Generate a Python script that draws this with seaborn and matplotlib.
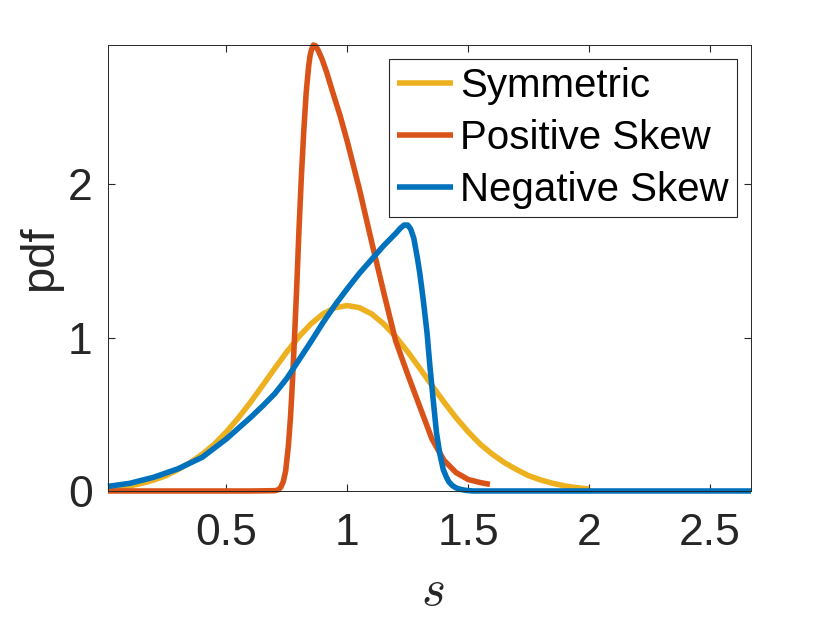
import numpy as np
import pandas as pd
import seaborn as sns
import matplotlib.pyplot as plt


sns.set_style("white")
plt.rcParams['font.family'] = ['Liberation Sans', 'DejaVu Sans']
plt.rcParams['mathtext.fontset'] = 'cm'

labels = ['Symmetric', 'Positive Skew', 'Negative Skew']
colors = ['#EDB120', '#D95319', '#0072BD']

sym_s = [0.01, 0.05, 0.10, 0.15, 0.20, 0.25, 0.30, 0.35, 0.40, 0.45, 0.50, 0.55, 0.60, 0.65, 0.70,
         0.75, 0.80, 0.85, 0.90, 0.95, 1.00, 1.05, 1.10, 1.15, 1.20, 1.25, 1.30, 1.35, 1.40, 1.45,
         1.50, 1.55, 1.60, 1.65, 1.70, 1.75, 1.80, 1.85, 1.90, 1.95, 2.00]
sym_pdf = [0.013, 0.021, 0.033, 0.050, 0.072, 0.100, 0.140, 0.185, 0.240, 0.305, 0.386, 0.478, 0.580,
           0.689, 0.800, 0.908, 1.007, 1.091, 1.156, 1.196, 1.210, 1.196, 1.156, 1.091, 1.007, 0.908,
           0.800, 0.689, 0.580, 0.478, 0.386, 0.305, 0.240, 0.185, 0.140, 0.100, 0.072, 0.050, 0.033,
           0.021, 0.013]

pos_s = [0.01, 0.30, 0.60, 0.70, 0.715, 0.725, 0.735, 0.745, 0.756, 0.765, 0.772, 0.78, 0.79, 0.80,
         0.81, 0.82, 0.83, 0.84, 0.846, 0.852, 0.86, 0.868, 0.878, 0.895, 0.915, 0.94, 0.97, 1.00,
         1.05, 1.10, 1.15, 1.20, 1.25, 1.30, 1.35, 1.40, 1.45, 1.50, 1.55, 1.59]
pos_pdf = [0.0, 0.0, 0.0, 0.002, 0.008, 0.025, 0.06, 0.13, 0.29, 0.48, 0.68, 0.945, 1.30, 1.70,
           2.05, 2.35, 2.60, 2.77, 2.84, 2.88, 2.91, 2.905, 2.88, 2.82, 2.73, 2.60, 2.45, 2.28,
           1.97, 1.63, 1.30, 0.98, 0.76, 0.55, 0.34, 0.20, 0.12, 0.075, 0.055, 0.043]

neg_s = [0.01, 0.10, 0.20, 0.30, 0.40, 0.50, 0.60, 0.65, 0.70, 0.75, 0.80, 0.85, 0.90, 0.95, 1.00,
         1.05, 1.10, 1.15, 1.20, 1.22, 1.235, 1.25, 1.262, 1.275, 1.29, 1.30, 1.314, 1.33, 1.342,
         1.355, 1.369, 1.383, 1.397, 1.41, 1.42, 1.435, 1.45, 1.47, 1.49, 1.52, 2.00, 2.67]
neg_pdf = [0.03, 0.05, 0.09, 0.145, 0.22, 0.34, 0.48, 0.555, 0.635, 0.735, 0.855, 0.975, 1.10, 1.215,
           1.32, 1.42, 1.51, 1.60, 1.68, 1.715, 1.735, 1.735, 1.71, 1.65, 1.52, 1.42, 1.25, 1.03, 0.81,
           0.60, 0.38, 0.24, 0.14, 0.09, 0.06, 0.035, 0.02, 0.01, 0.004, 0.0, 0.0, 0.0]

df = pd.concat([
    pd.DataFrame({'s': sym_s, 'pdf': sym_pdf, 'dist': labels[0]}),
    pd.DataFrame({'s': pos_s, 'pdf': pos_pdf, 'dist': labels[1]}),
    pd.DataFrame({'s': neg_s, 'pdf': neg_pdf, 'dist': labels[2]}),
], ignore_index=True)

fig = plt.figure(figsize=(8.3, 6.23), dpi=100)
ax = fig.add_axes([0.1301, 0.2119, 0.7747, 0.7159])

sns.lineplot(data=df, x='s', y='pdf', hue='dist', hue_order=labels,
             palette=dict(zip(labels, colors)), linewidth=4.0, estimator=None,
             sort=False, legend=False, ax=ax)
for ln in ax.lines:
    ln.set_clip_on(False)
    ln.set_solid_joinstyle('round')
    ln.set_solid_capstyle('butt')

ax.set_xlim(0.01, 2.67)
ax.set_ylim(0, max(pos_pdf))
ax.set_xticks([0.5, 1, 1.5, 2, 2.5])
ax.set_xticklabels(['0.5', '1', '1.5', '2', '2.5'])
ax.set_yticks([0, 1, 2])

ax.tick_params(axis='both', direction='in', length=5, width=0.8, colors='#262626',
               labelsize=32, bottom=True, left=True, top=True, right=True)
ax.tick_params(axis='x', pad=16)
ax.tick_params(axis='y', pad=11)
for sp in ax.spines.values():
    sp.set_color('#262626')
    sp.set_linewidth(0.7)

ax.set_xlabel(r'$s$', fontsize=37, color='#262626')
ax.set_ylabel('pdf', fontsize=34, color='#262626')
ax.xaxis.set_label_coords(0.505, -0.17)
ax.yaxis.set_label_coords(-0.072, 0.522)

leg = ax.legend(ax.lines, labels, loc='upper right', fontsize=29, frameon=True,
                fancybox=False, edgecolor='#262626', framealpha=1,
                handlelength=1.41, handletextpad=0.17, labelspacing=0.35,
                borderpad=0.2, borderaxespad=0.35, labelcolor='black')
leg.get_frame().set_linewidth(0.8)

fig.savefig('out.png', dpi=100)
